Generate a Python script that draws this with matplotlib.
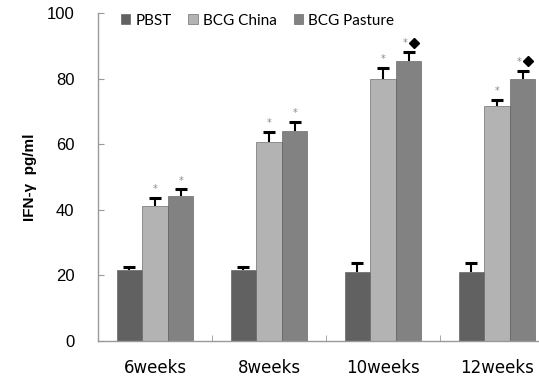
import numpy as np
import matplotlib.pyplot as plt

groups = ['6weeks', '8weeks', '10weeks', '12weeks']
series = ['PBST', 'BCG China', 'BCG Pasture']
pbst = [21.5, 21.5, 20.9, 20.9]
pbst_err = [1.1, 1.1, 3.0, 3.0]
china = [41.2, 60.8, 79.9, 71.6]
china_err = [2.3, 2.9, 3.4, 1.9]
pasture = [44.2, 64.0, 85.4, 79.9]
pasture_err = [2.0, 2.8, 2.6, 2.4]
china_mark = ['*', '*', '*', '*']
pasture_mark = ['*', '*', '*\u25c6', '*\u25c6']

colors = ['#616161', '#b3b3b3', '#828282']

fig = plt.figure(figsize=(5.39, 3.78), dpi=100)
ax = fig.add_axes([98 / 539, 37 / 378, 456 / 539, 328 / 378])

x = np.arange(len(groups))
w = 0.225
vals = [pbst, china, pasture]
errs = [pbst_err, china_err, pasture_err]
for i, (v, e) in enumerate(zip(vals, errs)):
    pos = x + (i - 1) * w
    top = np.array(v) + np.array(e)
    ax.bar(pos, v, w, color=colors[i], edgecolor='#555555', linewidth=0.4,
           label=series[i], zorder=2)
    # upper error bar only
    ax.vlines(pos, v, top, colors='black', linewidth=1.5, zorder=3)
    ax.plot(pos, top, linestyle='none', marker='_', markersize=8,
            markeredgewidth=2.2, color='black', zorder=3)

for i, (v, e, m) in enumerate([(china, china_err, china_mark),
                              (pasture, pasture_err, pasture_mark)]):
    pos = x + i * w
    for p, vv, ee, mm in zip(pos, v, e, m):
        dx = -0.035 if '\u25c6' in mm else 0.0
        ax.text(p + dx, vv + ee + 1.2, '*', ha='center', va='bottom',
                fontsize=7, color='#888888')
        if '\u25c6' in mm:
            ax.plot(p + 0.05, vv + ee + 3.0, marker='D', color='black',
                    markersize=5.5, zorder=4)

ax.set_xlim(-0.5, 3.5)
ax.set_ylim(0, 100)
ax.set_yticks([0, 20, 40, 60, 80, 100])
ax.set_xticks(x)
ax.set_xticklabels(groups, fontsize=12, family='DejaVu Sans')
ax.set_xticks([0.5, 1.5, 2.5], minor=True)
ax.tick_params(axis='x', which='major', length=0, pad=13)
ax.tick_params(axis='x', which='minor', direction='in', length=4, color='#999999')
ax.tick_params(axis='y', direction='in', length=4, color='#999999', pad=17,
               labelsize=12)
for lab in ax.get_yticklabels():
    lab.set_family('Liberation Sans')

for s in ['top', 'right']:
    ax.spines[s].set_visible(False)
for s in ['left', 'bottom']:
    ax.spines[s].set_color('#999999')
    ax.spines[s].set_linewidth(1.0)

ax.set_ylabel('IFN-\u03b3  pg/ml', fontsize=11, fontweight='bold',
              family='Liberation Sans', labelpad=7)

ax.legend(loc='upper left', bbox_to_anchor=(0.02, 1.04), ncol=3, frameon=False,
          handlelength=0.6, handleheight=0.6, handletextpad=0.35,
          columnspacing=1.1, prop={'family': 'Lato', 'size': 11})

fig.savefig('out.png', dpi=100)
